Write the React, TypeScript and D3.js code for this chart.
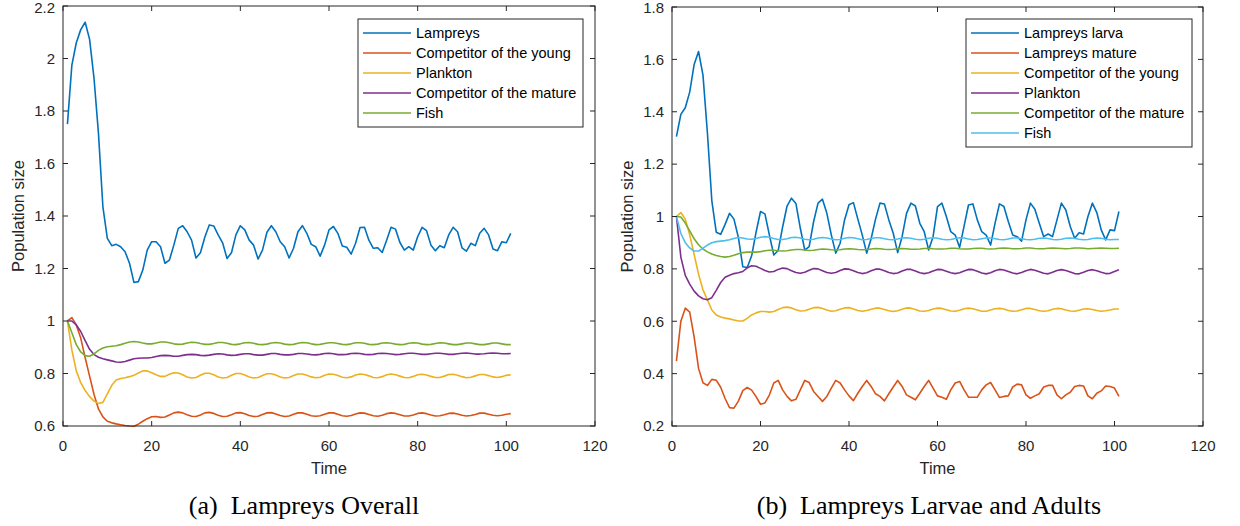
import React from 'react';
import * as d3 from 'd3';

// ---------- data (time steps t = 1..101) ----------
const xTicks = [0, 20, 40, 60, 80, 100, 120];
const yTicksA = [0.6, 0.8, 1, 1.2, 1.4, 1.6, 1.8, 2, 2.2];
const yTicksB = [0.2, 0.4, 0.6, 0.8, 1, 1.2, 1.4, 1.6, 1.8];

const namesA = ['Lampreys', 'Competitor of the young', 'Plankton', 'Competitor of the mature', 'Fish'];
const namesB = ['Lampreys larva', 'Lampreys mature', 'Competitor of the young', 'Plankton', 'Competitor of the mature', 'Fish'];

const aLampreys = [1.75, 1.975, 2.06, 2.11, 2.138, 2.073, 1.924, 1.715, 1.435, 1.315, 1.287, 1.292, 1.283, 1.264, 1.22, 1.147, 1.15, 1.194, 1.27, 1.302, 1.302, 1.283, 1.22, 1.232, 1.289, 1.353, 1.363, 1.34, 1.308, 1.24, 1.26, 1.32, 1.366, 1.362, 1.328, 1.298, 1.238, 1.26, 1.328, 1.363, 1.347, 1.308, 1.289, 1.236, 1.27, 1.338, 1.363, 1.34, 1.302, 1.283, 1.24, 1.277, 1.34, 1.363, 1.334, 1.292, 1.283, 1.247, 1.289, 1.347, 1.36, 1.334, 1.286, 1.281, 1.255, 1.296, 1.356, 1.357, 1.308, 1.277, 1.279, 1.261, 1.308, 1.357, 1.35, 1.299, 1.27, 1.283, 1.27, 1.321, 1.357, 1.344, 1.289, 1.268, 1.287, 1.279, 1.328, 1.357, 1.34, 1.279, 1.266, 1.296, 1.287, 1.334, 1.353, 1.328, 1.274, 1.268, 1.302, 1.298, 1.334];
const aCompYoung = [1.0, 1.013, 0.985, 0.935, 0.86, 0.79, 0.72, 0.665, 0.635, 0.618, 0.612, 0.608, 0.605, 0.602, 0.6, 0.599, 0.607, 0.618, 0.628, 0.635, 0.636, 0.633, 0.634, 0.642, 0.65, 0.653, 0.65, 0.643, 0.637, 0.636, 0.642, 0.65, 0.652, 0.648, 0.641, 0.636, 0.637, 0.643, 0.65, 0.651, 0.647, 0.64, 0.636, 0.637, 0.644, 0.65, 0.651, 0.646, 0.64, 0.636, 0.638, 0.645, 0.65, 0.65, 0.645, 0.639, 0.637, 0.639, 0.645, 0.65, 0.65, 0.645, 0.639, 0.637, 0.64, 0.646, 0.65, 0.649, 0.644, 0.639, 0.637, 0.641, 0.647, 0.65, 0.648, 0.643, 0.638, 0.638, 0.642, 0.648, 0.65, 0.647, 0.642, 0.638, 0.639, 0.643, 0.648, 0.649, 0.646, 0.641, 0.638, 0.64, 0.644, 0.649, 0.649, 0.645, 0.641, 0.639, 0.641, 0.645, 0.647];
const aPlankton = [1.0, 0.889, 0.81, 0.765, 0.735, 0.712, 0.695, 0.686, 0.69, 0.722, 0.755, 0.775, 0.781, 0.784, 0.788, 0.793, 0.802, 0.81, 0.81, 0.803, 0.795, 0.789, 0.789, 0.797, 0.803, 0.802, 0.795, 0.787, 0.783, 0.785, 0.793, 0.801, 0.801, 0.795, 0.787, 0.783, 0.785, 0.793, 0.8, 0.8, 0.794, 0.787, 0.783, 0.785, 0.792, 0.799, 0.799, 0.794, 0.787, 0.783, 0.785, 0.792, 0.798, 0.798, 0.793, 0.787, 0.784, 0.786, 0.793, 0.798, 0.797, 0.792, 0.786, 0.784, 0.787, 0.794, 0.798, 0.796, 0.791, 0.785, 0.784, 0.788, 0.795, 0.798, 0.795, 0.79, 0.785, 0.784, 0.789, 0.795, 0.797, 0.794, 0.789, 0.785, 0.785, 0.79, 0.796, 0.797, 0.793, 0.788, 0.784, 0.786, 0.791, 0.796, 0.796, 0.792, 0.787, 0.785, 0.788, 0.793, 0.795];
const aCompMature = [1.0, 1.0, 0.985, 0.96, 0.925, 0.892, 0.872, 0.862, 0.856, 0.852, 0.848, 0.844, 0.843, 0.846, 0.851, 0.856, 0.858, 0.859, 0.859, 0.861, 0.865, 0.868, 0.869, 0.868, 0.866, 0.866, 0.869, 0.872, 0.873, 0.872, 0.869, 0.868, 0.87, 0.873, 0.875, 0.874, 0.871, 0.869, 0.87, 0.873, 0.875, 0.875, 0.872, 0.87, 0.87, 0.873, 0.876, 0.876, 0.873, 0.871, 0.871, 0.873, 0.876, 0.876, 0.874, 0.872, 0.871, 0.873, 0.876, 0.877, 0.875, 0.872, 0.872, 0.873, 0.876, 0.877, 0.876, 0.873, 0.872, 0.873, 0.876, 0.877, 0.876, 0.874, 0.872, 0.873, 0.875, 0.877, 0.877, 0.875, 0.873, 0.873, 0.875, 0.877, 0.877, 0.875, 0.873, 0.873, 0.875, 0.877, 0.878, 0.876, 0.874, 0.874, 0.875, 0.877, 0.878, 0.877, 0.875, 0.875, 0.876];
const aFish = [1.0, 0.955, 0.91, 0.882, 0.868, 0.866, 0.875, 0.888, 0.897, 0.902, 0.904, 0.906, 0.91, 0.915, 0.92, 0.922, 0.92, 0.916, 0.913, 0.913, 0.916, 0.92, 0.92, 0.917, 0.913, 0.911, 0.912, 0.916, 0.919, 0.918, 0.914, 0.911, 0.911, 0.914, 0.918, 0.918, 0.915, 0.911, 0.91, 0.913, 0.917, 0.918, 0.915, 0.911, 0.91, 0.912, 0.916, 0.918, 0.916, 0.912, 0.91, 0.911, 0.915, 0.918, 0.917, 0.913, 0.91, 0.911, 0.914, 0.917, 0.917, 0.914, 0.911, 0.91, 0.913, 0.917, 0.917, 0.915, 0.911, 0.91, 0.912, 0.916, 0.917, 0.915, 0.912, 0.91, 0.911, 0.915, 0.917, 0.916, 0.912, 0.91, 0.911, 0.914, 0.917, 0.916, 0.913, 0.91, 0.91, 0.913, 0.916, 0.916, 0.913, 0.91, 0.91, 0.913, 0.916, 0.916, 0.913, 0.91, 0.91];

const bLarva = [1.305, 1.39, 1.415, 1.475, 1.58, 1.63, 1.54, 1.32, 1.06, 0.94, 0.932, 0.97, 1.012, 0.99, 0.92, 0.808, 0.805, 0.85, 0.94, 1.019, 1.01, 0.93, 0.853, 0.87, 0.96, 1.04, 1.07, 1.05, 0.955, 0.872, 0.885, 0.98, 1.051, 1.066, 1.012, 0.93, 0.86, 0.898, 0.987, 1.045, 1.053, 0.99, 0.929, 0.86, 0.915, 0.99, 1.051, 1.048, 0.987, 0.936, 0.862, 0.923, 1.012, 1.051, 1.04, 0.974, 0.942, 0.872, 0.923, 1.038, 1.051, 1.0, 0.942, 0.929, 0.882, 0.962, 1.044, 1.048, 0.987, 0.942, 0.929, 0.891, 0.974, 1.048, 1.038, 0.981, 0.929, 0.923, 0.906, 0.987, 1.051, 1.028, 0.974, 0.923, 0.933, 0.923, 0.987, 1.051, 1.025, 0.962, 0.917, 0.938, 0.933, 1.0, 1.051, 1.015, 0.949, 0.911, 0.949, 0.946, 1.019];
const bMature = [0.448, 0.6, 0.65, 0.635, 0.54, 0.42, 0.365, 0.355, 0.378, 0.375, 0.348, 0.305, 0.27, 0.268, 0.295, 0.335, 0.347, 0.337, 0.312, 0.283, 0.288, 0.318, 0.364, 0.374, 0.338, 0.313, 0.296, 0.302, 0.338, 0.374, 0.366, 0.332, 0.313, 0.294, 0.313, 0.345, 0.374, 0.364, 0.338, 0.315, 0.297, 0.325, 0.351, 0.374, 0.351, 0.323, 0.313, 0.296, 0.323, 0.349, 0.374, 0.351, 0.319, 0.31, 0.3, 0.325, 0.351, 0.374, 0.345, 0.315, 0.31, 0.302, 0.338, 0.364, 0.37, 0.338, 0.31, 0.31, 0.31, 0.338, 0.357, 0.366, 0.338, 0.309, 0.313, 0.315, 0.349, 0.36, 0.357, 0.319, 0.306, 0.315, 0.323, 0.349, 0.355, 0.355, 0.319, 0.304, 0.319, 0.329, 0.351, 0.355, 0.353, 0.315, 0.304, 0.325, 0.334, 0.353, 0.351, 0.345, 0.313];
const bCompYoung = [1.0, 1.015, 0.99, 0.93, 0.855, 0.78, 0.72, 0.682, 0.643, 0.624, 0.616, 0.612, 0.609, 0.605, 0.601, 0.601, 0.611, 0.624, 0.632, 0.637, 0.637, 0.635, 0.637, 0.645, 0.652, 0.654, 0.651, 0.644, 0.639, 0.64, 0.646, 0.652, 0.653, 0.649, 0.643, 0.638, 0.64, 0.646, 0.651, 0.652, 0.647, 0.641, 0.638, 0.641, 0.646, 0.65, 0.65, 0.645, 0.64, 0.637, 0.64, 0.646, 0.651, 0.65, 0.645, 0.639, 0.638, 0.641, 0.647, 0.65, 0.649, 0.644, 0.639, 0.638, 0.642, 0.648, 0.65, 0.648, 0.643, 0.638, 0.638, 0.643, 0.648, 0.649, 0.647, 0.641, 0.638, 0.639, 0.644, 0.649, 0.649, 0.645, 0.64, 0.638, 0.64, 0.646, 0.649, 0.648, 0.643, 0.639, 0.638, 0.642, 0.647, 0.648, 0.645, 0.641, 0.638, 0.64, 0.643, 0.647, 0.647];
const bPlankton = [1.0, 0.845, 0.775, 0.742, 0.715, 0.697, 0.686, 0.682, 0.69, 0.718, 0.748, 0.768, 0.776, 0.782, 0.785, 0.79, 0.804, 0.812, 0.81, 0.802, 0.794, 0.788, 0.79, 0.798, 0.803, 0.801, 0.793, 0.786, 0.783, 0.787, 0.795, 0.801, 0.8, 0.793, 0.786, 0.783, 0.786, 0.794, 0.8, 0.799, 0.793, 0.786, 0.782, 0.785, 0.793, 0.799, 0.799, 0.793, 0.786, 0.782, 0.784, 0.792, 0.798, 0.798, 0.792, 0.785, 0.782, 0.785, 0.792, 0.798, 0.797, 0.791, 0.785, 0.782, 0.785, 0.792, 0.798, 0.797, 0.791, 0.784, 0.781, 0.785, 0.793, 0.798, 0.796, 0.79, 0.784, 0.781, 0.786, 0.793, 0.798, 0.795, 0.789, 0.783, 0.781, 0.787, 0.794, 0.797, 0.794, 0.788, 0.782, 0.781, 0.787, 0.794, 0.797, 0.793, 0.787, 0.782, 0.783, 0.79, 0.797];
const bCompMature = [1.0, 0.998, 0.975, 0.945, 0.915, 0.892, 0.876, 0.865, 0.857, 0.851, 0.847, 0.845, 0.847, 0.852, 0.858, 0.862, 0.864, 0.864, 0.864, 0.866, 0.869, 0.871, 0.871, 0.869, 0.868, 0.869, 0.872, 0.874, 0.874, 0.872, 0.87, 0.871, 0.874, 0.876, 0.875, 0.873, 0.872, 0.873, 0.876, 0.877, 0.876, 0.874, 0.873, 0.874, 0.876, 0.878, 0.877, 0.875, 0.874, 0.875, 0.877, 0.878, 0.877, 0.875, 0.875, 0.876, 0.878, 0.879, 0.877, 0.876, 0.876, 0.877, 0.879, 0.879, 0.877, 0.876, 0.876, 0.878, 0.879, 0.879, 0.877, 0.876, 0.877, 0.879, 0.88, 0.879, 0.877, 0.877, 0.878, 0.88, 0.88, 0.878, 0.877, 0.877, 0.879, 0.88, 0.879, 0.878, 0.877, 0.878, 0.88, 0.88, 0.879, 0.877, 0.878, 0.879, 0.88, 0.879, 0.878, 0.878, 0.879];
const bFish = [1.0, 0.935, 0.9, 0.88, 0.868, 0.868, 0.879, 0.891, 0.9, 0.904, 0.906, 0.908, 0.911, 0.916, 0.92, 0.918, 0.914, 0.913, 0.916, 0.921, 0.923, 0.921, 0.916, 0.912, 0.912, 0.915, 0.92, 0.921, 0.918, 0.913, 0.911, 0.913, 0.918, 0.92, 0.918, 0.914, 0.911, 0.912, 0.917, 0.92, 0.919, 0.915, 0.911, 0.912, 0.916, 0.919, 0.919, 0.915, 0.912, 0.911, 0.914, 0.918, 0.919, 0.917, 0.913, 0.911, 0.913, 0.917, 0.919, 0.917, 0.913, 0.911, 0.912, 0.916, 0.919, 0.918, 0.914, 0.911, 0.912, 0.915, 0.918, 0.918, 0.915, 0.912, 0.911, 0.914, 0.918, 0.918, 0.915, 0.912, 0.911, 0.913, 0.917, 0.918, 0.916, 0.912, 0.911, 0.913, 0.917, 0.918, 0.916, 0.913, 0.911, 0.912, 0.916, 0.918, 0.917, 0.913, 0.911, 0.912, 0.912];

const colorsA = ['#0072BD', '#D95319', '#EDB120', '#7E2F8E', '#77AC30'];
const colorsB = ['#0072BD', '#D95319', '#EDB120', '#7E2F8E', '#77AC30', '#4DBEEE'];

const AX = '#262626';
const SANS = '"Liberation Sans", Arial, Helvetica, sans-serif';
const SERIF = '"Liberation Serif", "Times New Roman", serif';

type PanelProps = {
  left: number; right: number; top: number; bottom: number;
  yDomain: [number, number]; yTicks: number[];
  series: number[][]; names: string[]; colors: string[];
  legend: { x: number; y: number; w: number };
};

function Panel(p: PanelProps) {
  const x = d3.scaleLinear().domain([0, 120]).range([p.left, p.right]);
  const y = d3.scaleLinear().domain(p.yDomain).range([p.bottom, p.top]);
  const line = d3.line<number>().x((_, i) => x(i + 1)).y((d) => y(d));
  const tl = 5;
  const cx = (p.left + p.right) / 2;
  const cy = (p.top + p.bottom) / 2;
  const rowH = 20;
  const lh = 8 + p.names.length * rowH;
  return (
    <g>
      {p.series.map((s, i) => (
        <path key={i} d={line(s) || ''} fill="none" stroke={p.colors[i]} strokeWidth={1.6} strokeLinejoin="round" />
      ))}
      <rect x={p.left} y={p.top} width={p.right - p.left} height={p.bottom - p.top} fill="none" stroke={AX} strokeWidth={1} />
      {xTicks.map((t) => (
        <g key={'x' + t}>
          <line x1={x(t)} x2={x(t)} y1={p.bottom} y2={p.bottom - tl} stroke={AX} />
          <line x1={x(t)} x2={x(t)} y1={p.top} y2={p.top + tl} stroke={AX} />
          <text x={x(t)} y={p.bottom + 25} textAnchor="middle" fontFamily={SANS} fontSize={15} fill={AX}>{t}</text>
        </g>
      ))}
      {p.yTicks.map((t) => (
        <g key={'y' + t}>
          <line x1={p.left} x2={p.left + tl} y1={y(t)} y2={y(t)} stroke={AX} />
          <line x1={p.right} x2={p.right - tl} y1={y(t)} y2={y(t)} stroke={AX} />
          <text x={p.left - 8} y={Math.max(y(t), 8)} dy="0.35em" textAnchor="end" fontFamily={SANS} fontSize={15} fill={AX}>{t}</text>
        </g>
      ))}
      <text x={cx} y={p.bottom + 48} textAnchor="middle" fontFamily={SANS} fontSize={16.5} fill={AX}>Time</text>
      <text transform={`translate(${p.left - 39},${cy}) rotate(-90)`} textAnchor="middle" fontFamily={SANS} fontSize={16.5} fill={AX}>Population size</text>
      <rect x={p.legend.x} y={p.legend.y} width={p.legend.w} height={lh} fill="#fff" stroke={AX} strokeWidth={1} />
      {p.names.map((n, i) => {
        const ry = p.legend.y + 14 + i * rowH;
        return (
          <g key={'l' + i}>
            <line x1={p.legend.x + 5} x2={p.legend.x + 53} y1={ry} y2={ry} stroke={p.colors[i]} strokeWidth={1.6} />
            <text x={p.legend.x + 58} y={ry} dy="0.35em" fontFamily={SANS} fontSize={14.5} fill="#000">{n}</text>
          </g>
        );
      })}
    </g>
  );
}

export default function App() {
  return (
    <svg width={1240} height={526} style={{ position: 'absolute', left: 0, top: 0, background: '#fff' }}>
      <rect x={0} y={0} width={1240} height={526} fill="#fff" />
      <Panel left={63} right={595} top={6} bottom={426} yDomain={[0.6, 2.2]} yTicks={yTicksA}
        series={[aLampreys, aCompYoung, aPlankton, aCompMature, aFish]} names={namesA} colors={colorsA}
        legend={{ x: 358, y: 19, w: 225 }} />
      <Panel left={672} right={1203} top={7} bottom={426} yDomain={[0.2, 1.8]} yTicks={yTicksB}
        series={[bLarva, bMature, bCompYoung, bPlankton, bCompMature, bFish]} names={namesB} colors={colorsB}
        legend={{ x: 966, y: 19, w: 226 }} />
      <text x={304} y={514} textAnchor="middle" fontFamily={SERIF} fontSize={26} fill="#000" style={{ whiteSpace: 'pre' }}>{'(a)  Lampreys Overall'}</text>
      <text x={929} y={514} textAnchor="middle" fontFamily={SERIF} fontSize={26} fill="#000" style={{ whiteSpace: 'pre' }}>{'(b)  Lampreys Larvae and Adults'}</text>
    </svg>
  );
}
